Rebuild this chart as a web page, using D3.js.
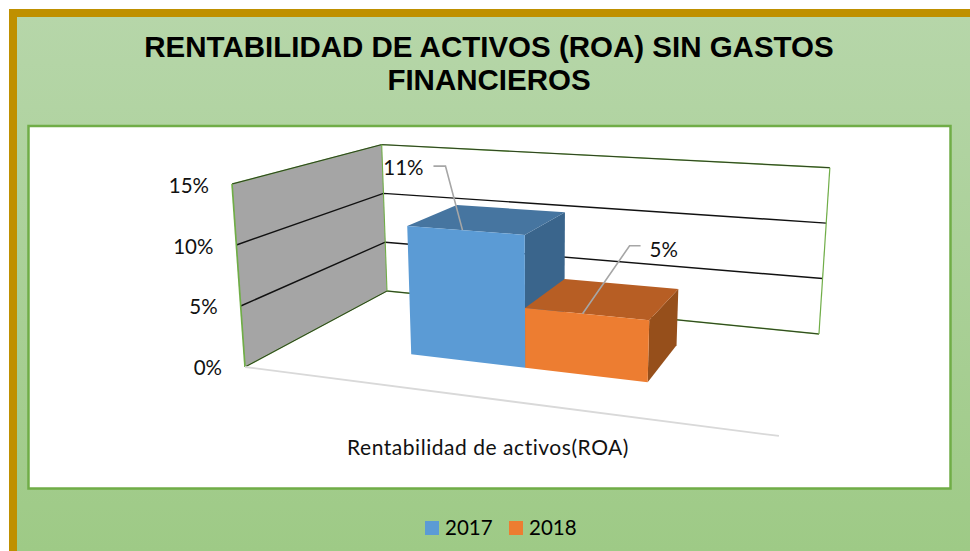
<!DOCTYPE html>
<html><head><meta charset="utf-8">
<script src="https://cdn.jsdelivr.net/npm/d3@7"></script>
<style>html,body{margin:0;padding:0;background:#fff}svg{display:block}</style>
</head><body><svg id="c" width="970" height="551"></svg>
<script>
const titleLines = ["RENTABILIDAD DE ACTIVOS (ROA) SIN GASTOS", "FINANCIEROS"];
const category = "Rentabilidad de activos(ROA)";
const years = ["2017", "2018"];
const values = [0.109, 0.049];
const valueTicks = [0, 0.05, 0.10, 0.15];
const frontColors = ["#5B9BD5", "#ED7D31"];
const topColors = ["#4675A0", "#B75E24"];
const sideColors = ["#3A658C", "#964F1B"];

const svg = d3.select("#c");
const W = 970, H = 551;

// backgrounds
const defs = svg.append("defs");
const grad = defs.append("linearGradient").attr("id","bg").attr("x1",0).attr("x2",0).attr("y1",0).attr("y2",1);
grad.append("stop").attr("offset","0%").attr("stop-color","#B6D6A9");
grad.append("stop").attr("offset","100%").attr("stop-color","#9ECA86");
svg.append("rect").attr("x",9).attr("y",9).attr("width",W-9).attr("height",H-9).attr("fill","#BF9000");
svg.append("rect").attr("x",17).attr("y",17).attr("width",W-17).attr("height",H-17).attr("fill","url(#bg)");
svg.append("rect").attr("x",28.5).attr("y",126).attr("width",922).attr("height",362.5)
  .attr("fill","#fff").attr("stroke","#70AD47").attr("stroke-width",2.5);

// 3D projection: floor homography + vertical scale
const hA=417.5,hB=238.75,hC=245,hD=3.8,hE=-3.25,hF=367,hG=-0.1495,hH=0.25;
const Vx=542, Vy=4557;
const heightScale = d3.scaleLinear().domain([0,0.15]).range([0,183]);
function project(u,d,val){
  const w = 1+hG*u+hH*d;
  const x = (hA*u+hB*d+hC)/w, y = (hD*u+hE*d+hF)/w;
  const h = heightScale(val)/w;
  return [x+(x-Vx)/(Vy-y)*h, y-h];
}
const poly = d3.line();
const maxTick = valueTicks[valueTicks.length-1];
const plot = svg.append("g");

// walls
plot.append("path").attr("d",poly([project(0,1,0),project(1,1,0),project(1,1,maxTick),project(0,1,maxTick)])+"Z").attr("fill","#fff");
plot.append("path").attr("d",poly([project(0,0,0),project(0,1,0),project(0,1,maxTick),project(0,0,maxTick)])+"Z").attr("fill","#A5A5A5");

// green wall edges
const edge = (pts,sw) => plot.append("path").attr("fill","none").attr("stroke","#70AD47").attr("stroke-width",sw).attr("d",poly(pts));
edge([project(0,0,0),project(0,1,0)],1.4);
edge([project(0,1,0),project(1,1,0)],1.4);
edge([project(0,0,maxTick),project(0,1,maxTick),project(1,1,maxTick)],1.4);

// gridlines
valueTicks.forEach(v=>{
  plot.append("path").attr("fill","none").attr("stroke","#111")
    .attr("stroke-width",(v===0||v===maxTick)?0.7:1.4)
    .attr("d",poly([project(0,0,v),project(0,1,v),project(1,1,v)]));
});
edge([project(0,0,0),project(0,0,maxTick)],1.7);
edge([project(0,1,0),project(0,1,maxTick)],1.1);
edge([project(1,1,0),project(1,1,maxTick)],1.2);

// floor front edge (category axis)
plot.append("path").attr("fill","none").attr("stroke","#D9D9D9").attr("stroke-width",1.8)
  .attr("d",poly([project(0,0,0),project(1,0,0)]));

// bars
const xBand = d3.scaleBand().domain(years).range([0,1]).paddingInner(0).paddingOuter(1.1);
const d0=0.30, d1=0.70;
years.forEach((yr,i)=>{
  const u0=xBand(yr), u1=u0+xBand.bandwidth(), v=values[i];
  const b=plot.append("g");
  b.append("path").attr("fill",sideColors[i]).attr("d",poly([project(u1,d0,0),project(u1,d1,0),project(u1,d1,v),project(u1,d0,v)])+"Z");
  b.append("path").attr("fill",topColors[i]).attr("d",poly([project(u0,d0,v),project(u1,d0,v),project(u1,d1,v),project(u0,d1,v)])+"Z");
  b.append("path").attr("fill",frontColors[i]).attr("d",poly([project(u0,d0,0),project(u1,d0,0),project(u1,d0,v),project(u0,d0,v)])+"Z");
});

const labelFont = "Lato, Carlito, sans-serif";
// value axis labels
const pct = d3.format(".0%");
svg.append("g").selectAll("text").data(valueTicks).join("text")
  .attr("x",v=>project(0,0,v)[0]-23).attr("y",v=>project(0,0,v)[1]+(v<0.06?8:9))
  .attr("text-anchor","end").attr("font-family",labelFont).attr("font-size",20.5).attr("fill","#111")
  .text(v=>pct(v));

// data labels with leaders
const leaderAnchors = [[0.376,0.30],[0.6125,0.30]];
const elbows = [[-17,-64],[47,-68]];
const labelDrop = [9,11];
years.forEach((yr,i)=>{
  const a=project(leaderAnchors[i][0],leaderAnchors[i][1],values[i]);
  const e=[a[0]+elbows[i][0],a[1]+elbows[i][1]];
  const end=[e[0]+(i===0?-12:11),e[1]];
  svg.append("path").attr("fill","none").attr("stroke","#A6A6A6").attr("stroke-width",1.6).attr("d",poly([a,e,end]));
  svg.append("text").attr("x",i===0?end[0]-10:end[0]+9).attr("y",e[1]+labelDrop[i])
    .attr("text-anchor",i===0?"end":"start").attr("font-family",labelFont).attr("font-size",20.5).attr("fill","#111")
    .text(pct(values[i]));
});

// category label
svg.append("text").attr("x",488).attr("y",455).attr("text-anchor","middle").attr("font-family",labelFont).attr("font-size",21).attr("letter-spacing",0.54).attr("fill","#111").text(category);

// title
titleLines.forEach((t,i)=>svg.append("text").attr("x",489).attr("y",57+i*33).attr("text-anchor","middle")
  .attr("font-family","'Liberation Sans',Arial,sans-serif").attr("font-weight","bold").attr("font-size",29.5).attr("fill","#000").text(t));

// legend
const legendX = d3.scaleOrdinal().domain(years).range([425,509]);
years.forEach((yr,i)=>{
  svg.append("rect").attr("x",legendX(yr)).attr("y",521).attr("width",14).attr("height",14).attr("fill",frontColors[i]);
  svg.append("text").attr("x",legendX(yr)+20).attr("y",535).attr("font-family",labelFont).attr("font-size",20.5).attr("fill","#000").text(yr);
});
</script></body></html>
